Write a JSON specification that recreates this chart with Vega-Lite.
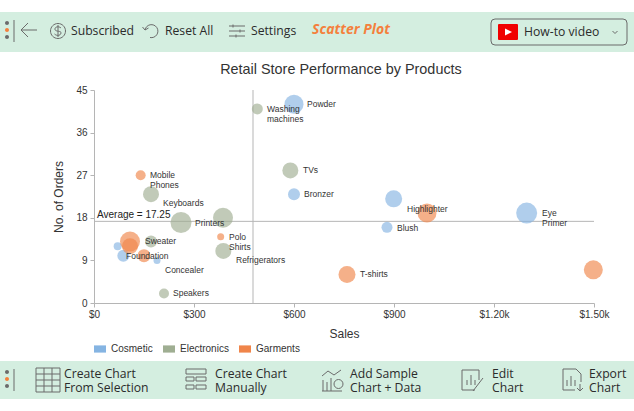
{
"$schema":"https://vega.github.io/schema/vega-lite/v6.json",
"width":634,"height":411,"padding":0,"autosize":{"type":"none"},"background":"white",
"title":{"text":"Retail Store Performance by Products","font":"Liberation Sans","fontSize":14.4,"fontWeight":"normal","color":"#333333","anchor":"middle","frame":"group","dx":24,"offset":-77},
"config":{"view":{"stroke":null},"font":"Liberation Sans"},
"datasets":{
"stores":[
{"name":"Powder","category":"Cosmetic","sales":600,"orders":42,"units":361,"label":"Powder","labelSales":639,"labelOrders":42},
{"name":"Bronzer","category":"Cosmetic","sales":600,"orders":23,"units":144,"label":"Bronzer","labelSales":630,"labelOrders":23},
{"name":"Highlighter","category":"Cosmetic","sales":899,"orders":22,"units":289,"label":"Highlighter","labelSales":939,"labelOrders":19.8},
{"name":"Blush","category":"Cosmetic","sales":879,"orders":16,"units":121,"label":"Blush","labelSales":909,"labelOrders":15.8},
{"name":"Eye Primer","category":"Cosmetic","sales":1298,"orders":19,"units":441,"label":"Eye\nPrimer","labelSales":1344,"labelOrders":19},
{"name":"Foundation","category":"Cosmetic","sales":88,"orders":10,"units":144,"label":"Foundation","labelSales":96,"labelOrders":9.9},
{"name":"Lipstick","category":"Cosmetic","sales":71,"orders":12,"units":64},
{"name":"Concealer","category":"Cosmetic","sales":189,"orders":9,"units":49,"label":"Concealer","labelSales":213,"labelOrders":7},
{"name":"Washing machines","category":"Electronics","sales":490,"orders":41,"units":121,"label":"Washing\nmachines","labelSales":519,"labelOrders":41},
{"name":"TVs","category":"Electronics","sales":589,"orders":28,"units":256,"label":"TVs","labelSales":627,"labelOrders":28},
{"name":"Keyboards","category":"Electronics","sales":171,"orders":23,"units":256,"label":"Keyboards","labelSales":207,"labelOrders":21.1},
{"name":"Printers","category":"Electronics","sales":261,"orders":17,"units":441,"label":"Printers","labelSales":303,"labelOrders":17},
{"name":"Laptops","category":"Electronics","sales":387,"orders":18,"units":400},
{"name":"Refrigerators","category":"Electronics","sales":388,"orders":11,"units":256,"label":"Refrigerators","labelSales":426,"labelOrders":9},
{"name":"Cameras","category":"Electronics","sales":171,"orders":13,"units":144},
{"name":"Speakers","category":"Electronics","sales":210,"orders":2,"units":100,"label":"Speakers","labelSales":237,"labelOrders":2.1},
{"name":"Mobile Phones","category":"Garments","sales":140,"orders":27,"units":100,"label":"Mobile\nPhones","labelSales":168,"labelOrders":27},
{"name":"Polo Shirts","category":"Garments","sales":380,"orders":14,"units":49,"label":"Polo\nShirts","labelSales":405,"labelOrders":14},
{"name":"Sweater","category":"Garments","sales":108,"orders":13,"units":400,"label":"Sweater","labelSales":153,"labelOrders":13},
{"name":"Jackets","category":"Garments","sales":108,"orders":12,"units":256},
{"name":"Jeans","category":"Garments","sales":150,"orders":10,"units":169},
{"name":"Dresses","category":"Garments","sales":999,"orders":19,"units":361},
{"name":"T-shirts","category":"Garments","sales":759,"orders":6,"units":289,"label":"T-shirts","labelSales":798,"labelOrders":6.1},
{"name":"Suits","category":"Garments","sales":1498,"orders":7,"units":361}
],
"bands":[{"toolbarY":12,"toolbarY2":52},{"toolbarY":361,"toolbarY2":399}],
"toolbarText":[
{"label":"Subscribed","toolbarX":71,"toolbarY":31},
{"label":"Reset All","toolbarX":165,"toolbarY":31},
{"label":"Settings","toolbarX":251,"toolbarY":31},
{"label":"How-to video","toolbarX":524,"toolbarY":32},
{"label":"Create Chart\nFrom Selection","toolbarX":64,"toolbarY":374},
{"label":"Create Chart\nManually","toolbarX":215,"toolbarY":374},
{"label":"Add Sample\nChart + Data","toolbarX":350,"toolbarY":374},
{"label":"Edit\nChart","toolbarX":492,"toolbarY":374},
{"label":"Export\nChart","toolbarX":589,"toolbarY":374}
],
"toolbarIcons":[
{"icon":"divider","toolbarX":14,"toolbarY":31},
{"icon":"back","toolbarX":29,"toolbarY":30},
{"icon":"dollar","toolbarX":58,"toolbarY":31},
{"icon":"reset","toolbarX":151,"toolbarY":31},
{"icon":"sliders","toolbarX":237,"toolbarY":31},
{"icon":"button","toolbarX":559,"toolbarY":32},
{"icon":"chevron","toolbarX":615,"toolbarY":32},
{"icon":"divider","toolbarX":14,"toolbarY":380},
{"icon":"table","toolbarX":48,"toolbarY":380},
{"icon":"manual","toolbarX":196,"toolbarY":380},
{"icon":"sample","toolbarX":332,"toolbarY":380},
{"icon":"edit","toolbarX":472,"toolbarY":380},
{"icon":"export","toolbarX":572,"toolbarY":380}
],
"toolbarSolid":[
{"icon":"dotGray","toolbarX":7,"toolbarY":23},
{"icon":"dotOrange","toolbarX":7,"toolbarY":30},
{"icon":"dotGray","toolbarX":7,"toolbarY":37},
{"icon":"dotGray","toolbarX":7,"toolbarY":372},
{"icon":"dotOrange","toolbarX":7,"toolbarY":379},
{"icon":"dotGray","toolbarX":7,"toolbarY":386},
{"icon":"logo","toolbarX":508,"toolbarY":32},
{"icon":"play","toolbarX":508,"toolbarY":32}
]
},
"resolve":{"scale":{"x":"independent","y":"independent","color":"independent","shape":"independent"},"axis":{"x":"independent","y":"independent"},"legend":{"color":"independent","shape":"independent"}},
"layer":[
{"data":{"name":"bands"},"mark":{"type":"rect","color":"#d4eee0"},
 "encoding":{"y":{"field":"toolbarY","type":"quantitative","axis":null,"scale":{"domain":[0,411],"range":[0,411]}},"y2":{"field":"toolbarY2"}}},
{"data":{"name":"toolbarText"},"mark":{"type":"text","align":"left","baseline":"middle","font":"Open Sans","fontSize":12.2,"color":"#2b2b2b","lineHeight":14,"lineBreak":"\n"},
 "encoding":{"x":{"field":"toolbarX","type":"quantitative","axis":null,"scale":{"domain":[0,634],"range":[0,634]}},"y":{"field":"toolbarY","type":"quantitative","axis":null,"scale":{"domain":[0,411],"range":[0,411]}},"text":{"field":"label"}}},
{"data":{"values":[{"label":"Scatter Plot","toolbarX":312,"toolbarY":30}]},"mark":{"type":"text","align":"left","baseline":"middle","font":"Open Sans","fontSize":14,"fontWeight":"bold","fontStyle":"italic","color":"#f4803c"},
 "encoding":{"x":{"field":"toolbarX","type":"quantitative","axis":null,"scale":{"domain":[0,634],"range":[0,634]}},"y":{"field":"toolbarY","type":"quantitative","axis":null,"scale":{"domain":[0,411],"range":[0,411]}},"text":{"field":"label"}}},
{"data":{"name":"toolbarIcons"},"mark":{"type":"point","filled":false,"size":400,"stroke":"#6b6b6b","strokeWidth":1,"opacity":1},
 "encoding":{"x":{"field":"toolbarX","type":"quantitative","axis":null,"scale":{"domain":[0,634],"range":[0,634]}},"y":{"field":"toolbarY","type":"quantitative","axis":null,"scale":{"domain":[0,411],"range":[0,411]}},
 "shape":{"field":"icon","type":"nominal","legend":null,"scale":{"domain":["divider","back","dollar","reset","sliders","button","chevron","table","manual","sample","edit","export"],"range":[
 "M0,-1.1V1.1",
 "M0.8,0H-0.8M-0.8,0L-0.1,-0.7M-0.8,0L-0.1,0.7",
 "M-0.75,0A0.75,0.75 0 1 1 0.75,0A0.75,0.75 0 1 1 -0.75,0M0.3,-0.3C0.1,-0.5 -0.35,-0.45 -0.3,-0.15C-0.25,0.1 0.35,-0.05 0.3,0.2C0.25,0.5 -0.15,0.5 -0.35,0.3M0,-0.6V0.6",
 "M-0.6,-0.1A0.65,0.65 0 1 1 -0.1,0.65M-0.6,-0.1L-0.85,-0.4M-0.6,-0.1L-0.25,-0.3",
 "M-0.8,-0.5H0.8M-0.8,0H0.8M-0.8,0.5H0.8M-0.4,-0.65V-0.35M0.3,-0.15V0.15M-0.1,0.35V0.65",
 "M-6.4,-1.3H6.4Q6.8,-1.3 6.8,-0.9V0.9Q6.8,1.3 6.4,1.3H-6.4Q-6.8,1.3 -6.8,0.9V-0.9Q-6.8,-1.3 -6.4,-1.3Z",
 "M-0.25,-0.1L0,0.15L0.25,-0.1",
 "M-1.2,-1.2H1.2V1.2H-1.2ZM-1.2,-0.6H1.2M-1.2,0H1.2M-1.2,0.6H1.2M-0.4,-1.2V1.2M0.4,-1.2V1.2",
 "M-1,-1.1H1V-0.6H-1ZM-1,-0.3H-0.2V0.1H-1ZM0,-0.3H1V0.1H0ZM-1,0.5H-0.2V0.9H-1ZM0,0.5H1V0.9H0Z",
 "M-1,1.1H1M-0.9,1.1V0M-0.5,1.1V0.2M-0.1,1.1V-0.2M-1,-0.4L-0.4,-0.9L0.2,-0.5L0.9,-1M0.2,0.4A0.45,0.45 0 1 1 1.1,0.4A0.45,0.45 0 1 1 0.2,0.4",
 "M0.3,1H-1V-1H0.7V0M-0.5,0.5V0M-0.1,0.5V-0.5M0.3,0.5V0M0.1,1.1L1.1,-0.2",
 "M-0.9,-1.1H0.4L0.9,-0.6V0.2M-0.9,-1.1V1H0.3M-0.5,0.6V0M-0.1,0.6V-0.4M0.3,0.6V0M0.8,0.4V1.1M0.5,0.8L0.8,1.1L1.1,0.8"
 ]}}}},
{"data":{"name":"toolbarSolid"},"mark":{"type":"point","filled":true,"size":400,"opacity":1},
 "encoding":{"x":{"field":"toolbarX","type":"quantitative","axis":null,"scale":{"domain":[0,634],"range":[0,634]}},"y":{"field":"toolbarY","type":"quantitative","axis":null,"scale":{"domain":[0,411],"range":[0,411]}},
 "color":{"field":"icon","type":"nominal","legend":null,"scale":{"domain":["dotGray","dotOrange","logo","play"],"range":["#6b6b6b","#f4803c","#f00000","#ffffff"]}},
 "shape":{"field":"icon","type":"nominal","legend":null,"scale":{"domain":["dotGray","dotOrange","logo","play"],"range":[
 "M-0.2,0A0.2,0.2 0 1 1 0.2,0A0.2,0.2 0 1 1 -0.2,0Z",
 "M-0.2,0A0.2,0.2 0 1 1 0.2,0A0.2,0.2 0 1 1 -0.2,0Z",
 "M-0.9,-0.8H0.9Q1,-0.8 1,-0.7V0.7Q1,0.8 0.9,0.8H-0.9Q-1,0.8 -1,0.7V-0.7Q-1,-0.8 -0.9,-0.8Z",
 "M-0.3,-0.35L0.4,0L-0.3,0.35Z"
 ]}}}},
{"data":{"name":"stores"},
 "layer":[
 {"data":{"values":[{"sales":477}]},"mark":{"type":"rule","color":"#b5b5b5","strokeWidth":1},
  "encoding":{"x":{"field":"sales","type":"quantitative"},"y":{"datum":0,"type":"quantitative"},"y2":{"datum":45}}},
 {"data":{"values":[{"orders":17.25}]},"mark":{"type":"rule","color":"#b5b5b5","strokeWidth":1},
  "encoding":{"y":{"field":"orders","type":"quantitative"},"x":{"datum":0,"type":"quantitative"},"x2":{"datum":1500}}},
 {"mark":{"type":"circle","opacity":0.65,"clip":false},
  "encoding":{
  "x":{"field":"sales","type":"quantitative","scale":{"domain":[0,1500],"range":[94,594],"nice":false},
   "axis":{"title":"Sales","orient":"bottom","offset":-108,"values":[0,300,600,900,1200,1500],"labelExpr":"datum.value==0?'$0':datum.value<1000?'$'+datum.value:'$'+format(datum.value/1000,'.2f')+'k'","grid":false,"domainColor":"#b5b5b5","tickColor":"#b5b5b5","labelFont":"Liberation Sans","labelFontSize":10,"labelColor":"#333333","titleFont":"Liberation Sans","titleFontSize":12,"titleFontWeight":"normal","titleColor":"#333333","labelPadding":2,"titlePadding":9,"tickSize":4,"labelFlush":false,"labelOverlap":false}},
  "y":{"field":"orders","type":"quantitative","scale":{"domain":[0,45],"range":[303,90],"nice":false},
   "axis":{"title":"No. of Orders","orient":"left","offset":-94,"values":[0,9,18,27,36,45],"grid":false,"domainColor":"#b5b5b5","tickColor":"#b5b5b5","labelFont":"Liberation Sans","labelFontSize":10,"labelColor":"#333333","titleFont":"Liberation Sans","titleFontSize":12,"titleFontWeight":"normal","titleColor":"#333333","labelPadding":3,"titlePadding":10,"tickSize":4,"labelOverlap":false}},
  "size":{"field":"units","type":"quantitative","legend":null,"scale":{"domain":[0,500],"range":[0,500]}},
  "color":{"field":"category","type":"nominal","scale":{"domain":["Cosmetic","Electronics","Garments"],"range":["#85b4e2","#9fae92","#f0854a"]},
   "legend":{"title":null,"orient":"none","legendX":94,"legendY":343,"direction":"horizontal","symbolType":"M-1,-0.6H1V0.6H-1Z","symbolSize":144,"symbolOpacity":1,"symbolStrokeWidth":0,"labelFont":"Liberation Sans","labelFontSize":10,"labelColor":"#333333","columnPadding":10,"labelOffset":5}}}},
 {"transform":[{"filter":"isValid(datum.label)"}],"mark":{"type":"text","align":"left","baseline":"middle","font":"Liberation Sans","fontSize":8.5,"color":"#333333","lineHeight":10,"lineBreak":"\n"},
  "encoding":{"x":{"field":"labelSales","type":"quantitative"},"y":{"field":"labelOrders","type":"quantitative"},"text":{"field":"label"}}},
 {"data":{"values":[{"label":"Average = 17.25","sales":9,"orders":18.6}]},"mark":{"type":"text","align":"left","baseline":"middle","font":"Liberation Sans","fontSize":10,"color":"#222222"},
  "encoding":{"x":{"field":"sales","type":"quantitative"},"y":{"field":"orders","type":"quantitative"},"text":{"field":"label"}}}
 ]}
]
}
